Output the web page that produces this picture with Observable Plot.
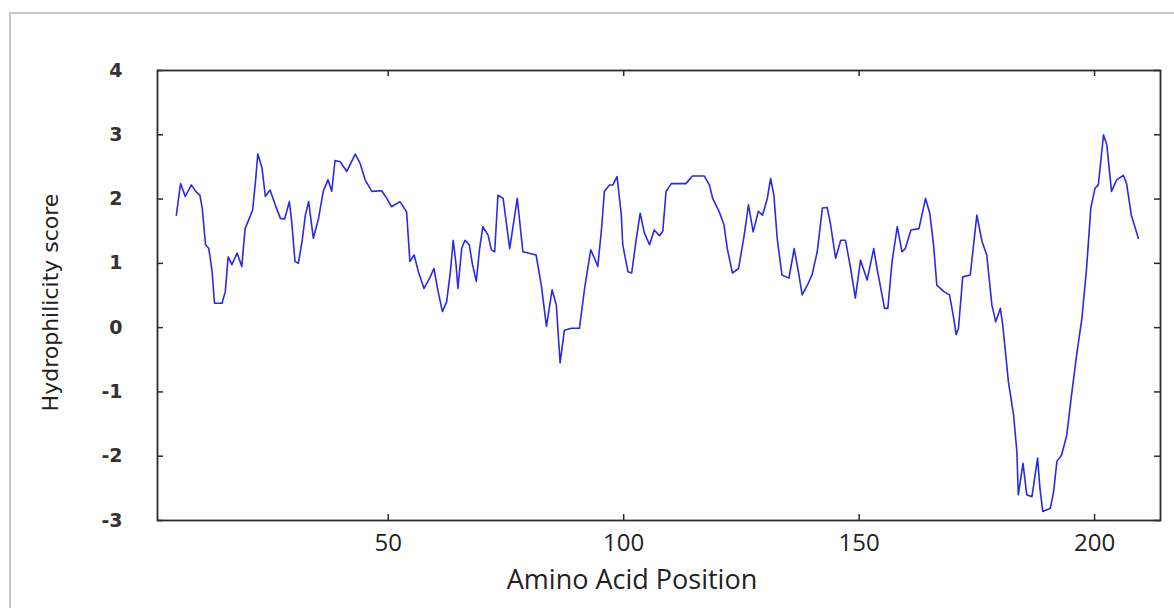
<!DOCTYPE html>
<html><head><meta charset="utf-8">
<script src="https://cdn.jsdelivr.net/npm/d3@7"></script>
<script src="https://cdn.jsdelivr.net/npm/@observablehq/plot@0.6"></script>
<style>
html,body{margin:0;padding:0;background:#fff;overflow:hidden}
#wrap{position:relative;width:1174px;height:608px}
#border{position:absolute;left:9px;top:12px;width:1180px;height:620px;border:2px solid #c4c4c4;pointer-events:none}
</style></head><body><div id="wrap"><div id="border"></div></div>
<script>
// Amino acid positions (x) and hydrophilicity scores (y)
const positions = [5.0, 5.9, 6.9, 8.2, 9.1, 10.0, 10.5, 11.2, 11.9, 12.6, 13.1, 14.7, 15.4, 16.0, 16.8, 17.9, 18.9, 19.6, 20.5, 21.2, 21.8, 22.3, 23.2, 23.9, 24.9, 26.0, 27.1, 28.0, 29.0, 29.5, 30.2, 30.9, 31.7, 32.4, 33.1, 34.1, 35.2, 36.2, 37.2, 38.0, 38.7,
  39.8, 41.2, 43.0, 44.0, 45.1, 46.5, 48.6, 49.7, 50.7, 52.5, 53.9, 54.6, 55.5, 56.4, 57.6, 58.8, 59.7, 60.6, 61.5, 62.4, 63.2, 63.8, 64.4, 64.8, 65.6, 66.3, 67.2, 67.9, 68.7, 69.4, 70.1, 71.2, 71.9, 72.6, 73.3,
  74.4, 75.8, 77.4, 78.6, 79.7, 81.4, 82.5, 83.6, 84.8, 85.7, 86.5, 87.4, 88.9, 90.6, 91.7, 93.0, 93.8, 94.5, 95.3, 95.9, 97.0, 97.7, 98.6, 99.5, 99.8, 100.9, 101.7, 102.6, 103.5, 104.4, 105.5, 106.5, 107.6, 108.3,
  109.0, 110.1, 113.2, 114.6, 117.1, 118.2, 118.9, 120.3, 121.3, 122.0, 123.1, 124.4, 125.6, 126.5, 127.5, 128.6, 129.5, 130.5, 131.2, 131.9, 132.6, 133.6, 135.1, 136.2, 137.1, 137.9, 139.0, 140.0, 141.1, 142.2, 143.2,
  143.9, 145.0, 146.1, 147.1, 148.2, 149.2, 150.3, 151.7, 153.1, 153.8, 155.4, 156.1, 157.0, 158.1, 159.1, 159.8, 161.0, 162.7, 164.1, 165.0, 165.8, 166.5, 168.0, 169.2, 170.1, 170.6, 171.1, 172.0, 173.6, 175.0, 176.1, 177.1, 178.2,
  179.0, 180.0, 180.5, 181.7, 182.8, 183.5, 183.8, 184.8, 185.6, 186.7, 187.9, 188.4, 189.0, 190.6, 191.3, 192.0, 193.0, 194.1, 195.1, 196.2, 197.3, 198.3, 199.2, 200.1, 200.8, 201.9, 202.6, 203.6, 204.7, 206.1, 206.8, 207.8, 209.3];
const scores = [1.75, 2.24, 2.04, 2.22, 2.12, 2.06, 1.86, 1.29, 1.23, 0.87, 0.38, 0.38, 0.56, 1.10, 0.98, 1.16, 0.95, 1.54, 1.70, 1.83, 2.27, 2.70, 2.48, 2.04, 2.14, 1.91, 1.70, 1.69, 1.96, 1.65, 1.03, 1.00, 1.34, 1.75, 1.96, 1.39, 1.70, 2.12, 2.30, 2.12, 2.60,
  2.58, 2.43, 2.70, 2.56, 2.30, 2.12, 2.13, 2.01, 1.88, 1.96, 1.80, 1.03, 1.13, 0.87, 0.61, 0.77, 0.92, 0.56, 0.25, 0.40, 0.87, 1.36, 0.98, 0.61, 1.23, 1.36, 1.29, 0.98, 0.72, 1.23, 1.57, 1.44, 1.21, 1.18, 2.06,
  2.01, 1.23, 2.01, 1.18, 1.16, 1.13, 0.66, 0.02, 0.59, 0.35, -0.55, -0.04, -0.01, -0.01, 0.61, 1.21, 1.08, 0.95, 1.54, 2.12, 2.22, 2.22, 2.35, 1.75, 1.29, 0.87, 0.85, 1.34, 1.78, 1.47, 1.29, 1.52, 1.43, 1.50,
  2.12, 2.24, 2.24, 2.36, 2.36, 2.22, 2.01, 1.80, 1.60, 1.23, 0.85, 0.92, 1.44, 1.91, 1.49, 1.81, 1.75, 2.01, 2.32, 2.06, 1.39, 0.82, 0.77, 1.23, 0.87, 0.51, 0.66, 0.82, 1.18, 1.86, 1.87,
  1.62, 1.08, 1.36, 1.36, 0.92, 0.46, 1.05, 0.74, 1.23, 0.92, 0.30, 0.30, 1.03, 1.57, 1.18, 1.23, 1.52, 1.54, 2.01, 1.78, 1.29, 0.66, 0.56, 0.51, 0.14, -0.11, -0.01, 0.79, 0.82, 1.75, 1.34, 1.13, 0.35,
  0.09, 0.30, 0.04, -0.84, -1.36, -1.93, -2.60, -2.11, -2.60, -2.63, -2.03, -2.50, -2.86, -2.81, -2.55, -2.08, -1.98, -1.67, -1.05, -0.42, 0.14, 0.92, 1.86, 2.17, 2.22, 3.00, 2.84, 2.12, 2.30, 2.37, 2.24, 1.75, 1.39];
const xTicks = [50, 100, 150, 200];
const yTicks = [-3, -2, -1, 0, 1, 2, 3, 4];
const xTitle = "Amino Acid Position";
const yTitle = "Hydrophilicity score";

const data = positions.map((p, i) => ({pos: p, score: scores[i]}));

const W = 1174, H = 608, ML = 157, MR = 14, MT = 70, MB = 88;
const frameW = W - ML - MR, frameH = H - MT - MB;
const tickLen = 6;

const chart = Plot.plot({
  width: W, height: H,
  marginLeft: ML, marginRight: MR, marginTop: MT, marginBottom: MB,
  style: {background: "transparent", overflow: "visible"},
  x: {domain: [1, 214]},
  y: {domain: [-3, 4]},
  marks: [
    Plot.line(data, {x: "pos", y: "score", stroke: "#2a2ae4", strokeWidth: 1.6}),
    // inward ticks on all four sides
    Plot.tickY(yTicks, {y: d => d, insetRight: frameW - tickLen, stroke: "#2b2b2b", strokeWidth: 1.5}),
    Plot.tickY(yTicks, {y: d => d, insetLeft: frameW - tickLen, stroke: "#2b2b2b", strokeWidth: 1.5}),
    Plot.tickX(xTicks, {x: d => d, insetTop: frameH - tickLen, stroke: "#2b2b2b", strokeWidth: 1.5}),
    Plot.tickX(xTicks, {x: d => d, insetBottom: frameH - tickLen, stroke: "#2b2b2b", strokeWidth: 1.5}),
    Plot.frame({stroke: "#2b2b2b", strokeWidth: 1.8}),
    Plot.axisY({ticks: yTicks, anchor: "left", tickSize: 0, tickPadding: 35, label: null,
      tickFormat: d => String(d),
      fontSize: 19, fontWeight: "bold", fontFamily: "DejaVu Sans, sans-serif", fill: "#333"}),
    Plot.axisX({ticks: xTicks, anchor: "bottom", tickSize: 0, tickPadding: 13, label: null,
      tickFormat: d => String(d),
      fontSize: 24, fontFamily: "'Open Sans', sans-serif", fill: "#222"}),
    Plot.text([xTitle], {frameAnchor: "bottom", dx: -27, dy: 68, fontSize: 27,
      fontFamily: "'Open Sans', sans-serif", fill: "#222"}),
    Plot.text([yTitle], {frameAnchor: "left", textAnchor: "middle", dx: -107, dy: 7, rotate: -90, fontSize: 22,
      fontFamily: "'DejaVu Sans', sans-serif", fill: "#222"})
  ]
});
document.getElementById("wrap").prepend(chart);
chart.style.position = "absolute";
chart.style.left = "0px";
chart.style.top = "0px";
</script>
</body></html>
